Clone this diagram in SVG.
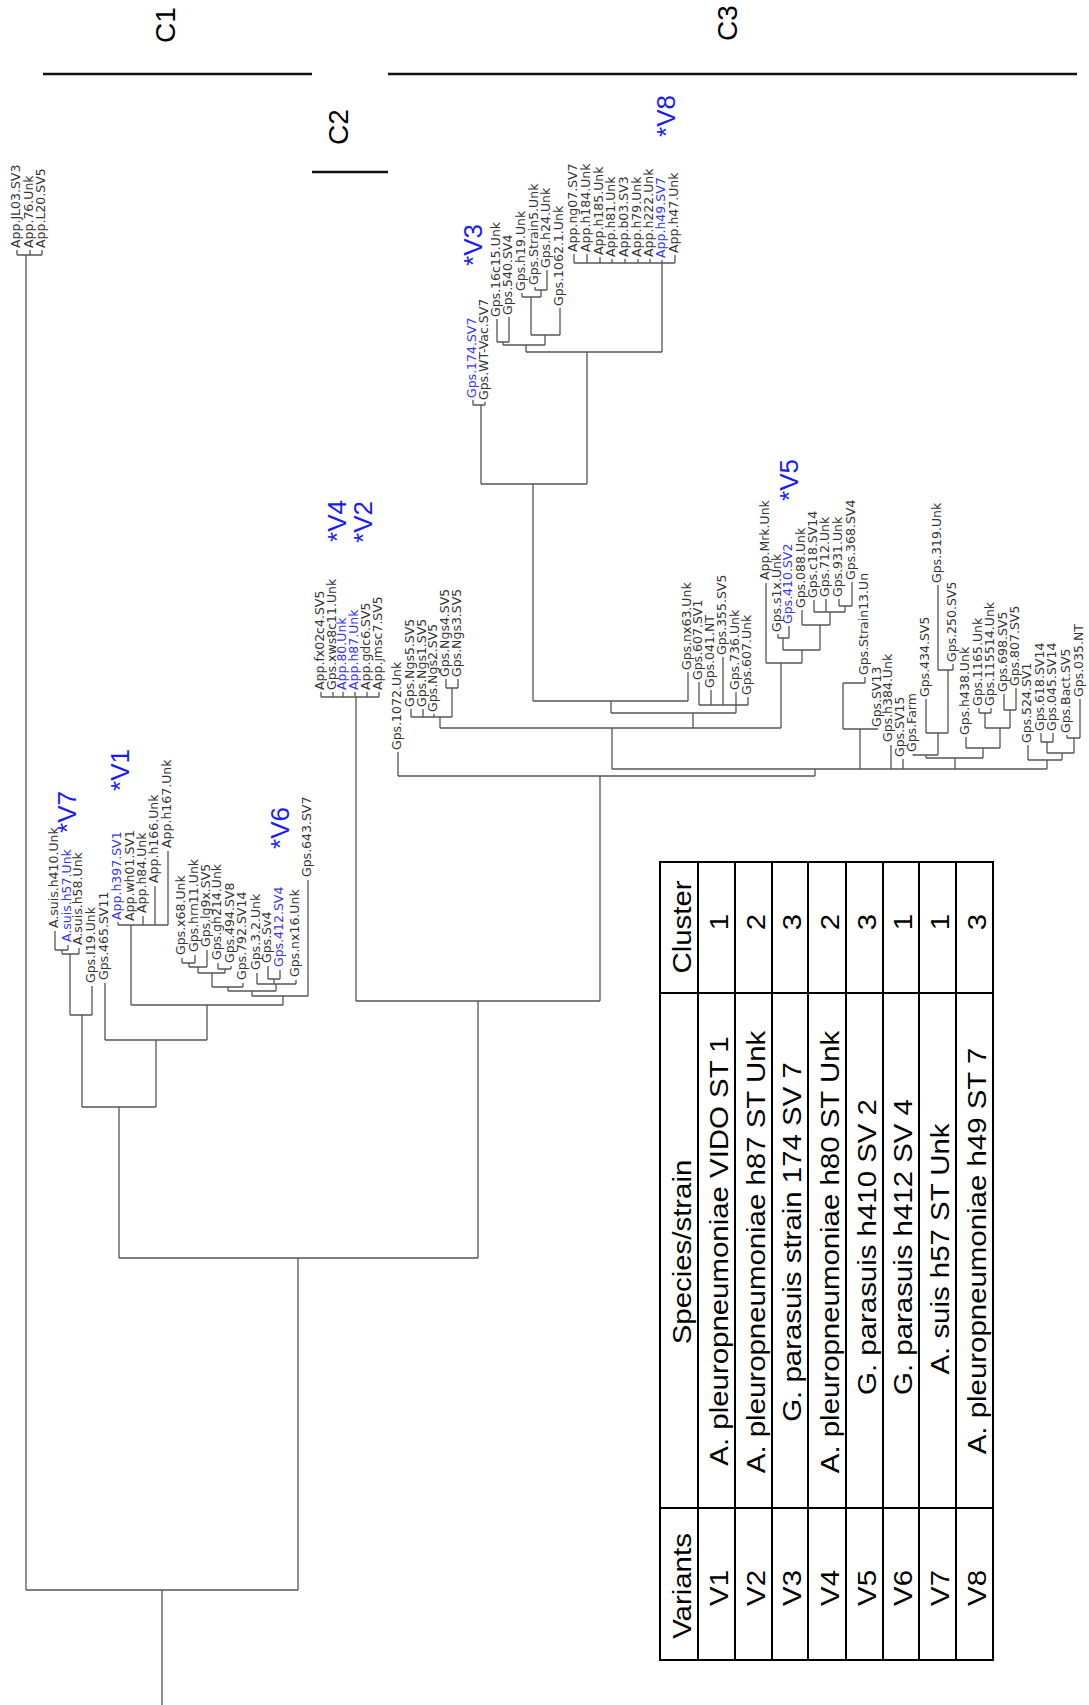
<svg xmlns="http://www.w3.org/2000/svg" width="1089" height="1705" viewBox="0 0 1089 1705">
<style>
.l{font-family:"DejaVu Sans",Verdana,sans-serif;font-size:12.5px;fill:#333}
.b{font-family:"DejaVu Sans",Verdana,sans-serif;font-size:12.5px;fill:#3535ee}
.v{font-family:"Liberation Sans",Arial,sans-serif;font-size:26px;fill:#1a1aff;text-anchor:middle}
.c{font-family:"Liberation Sans",Arial,sans-serif;font-size:28px;fill:#000;text-anchor:middle}
.t{font-family:"Liberation Sans",Arial,sans-serif;font-size:26.5px;fill:#000;text-anchor:middle}
.tr{fill:none;stroke:#555;stroke-width:1.3}
.bar{stroke:#111;stroke-width:2.5}
.tb{fill:none;stroke:#000;stroke-width:2}
</style>
<rect width="1089" height="1705" fill="#fff"/>
<g id="clusters">
<line class="bar" x1="43" y1="74" x2="312" y2="74"/>
<line class="bar" x1="312" y1="172" x2="388" y2="172"/>
<line class="bar" x1="388" y1="74" x2="1077" y2="74"/>
<text class="c" transform="translate(175,25) rotate(-90)">C1</text>
<text class="c" transform="translate(348,127) rotate(-90)">C2</text>
<text class="c" transform="translate(737,23) rotate(-90)">C3</text>
</g>
<g id="connectors">
<path class="tr" d="M17,250V255M30,250V255M42,250V255M17,255H42M26,255V1590"/>
<path class="tr" d="M162,1705V1590M26,1590H298M298,1590V1258M119,1258H478M119,1258V1107M82,1107H156M82,1107V1015M70,1015H92M156,1107V1040M105,1040H207M207,1040V1005M131,1005H283M478,1258V1001M356,1001H600"/>
<path class="tr" d="M55,931V950M68,945V950M55,950H68M62,950V954M79,948V954M62,954H79M70,954V1015M92,986V1015M105,983V1040"/>
<path class="tr" d="M118,922V925M143,916V925M155,886V925M168,851V925M118,925H168M131,925V1005"/>
<path class="tr" d="M182,958V963M195,955V963M182,963H195M189,963V967M207,950V967M189,967H207M198,967V973M218,963V969M231,966V969M218,969H231M225,969V973M198,973H225M212,973V987M243,983V987M212,987H243M228,987V991M268,966V979M280,970V979M268,979H280M274,979V984M257,973V984M296,980V984M257,984H296M276,984V991M228,991H276M252,991V996M308,880V996M252,996H308M283,996V1005"/>
<path class="tr" d="M321,692V697M333,692V697M343,692V697M355,692V697M367,692V697M379,692V697M321,697H379M356,697V1001"/>
<path class="tr" d="M600,1001V776M398,752V776M398,776H815M815,776V769M612,769H1047M612,769V728M440,728H781M440,728V717M446,679V688M458,679V688M446,688H458M452,688V717M411,709V717M423,709V717M434,714V717M411,717H452"/>
<path class="tr" d="M533,701H688M688,672V701M611,701V713M611,713H736M693,713V728M533,701V484M481,484H587M481,484V405M473,400V405M485,402V405M473,405H485M587,484V352M526,352H662"/>
<path class="tr" d="M497,319V342M509,317V342M497,342H509M503,342V345M535,287V290M547,270V290M535,290H547M541,290V297M522,293V297M522,297H541M531,297V335M560,308V335M531,335H560M545,335V345M503,345H545M526,345V352"/>
<path class="tr" d="M574,254V263M587,254V263M600,257V263M612,259V263M625,259V263M638,259V263M650,259V263M662,260V352M675,255V263M574,263H675"/>
<path class="tr" d="M699,682V705M711,690V705M723,657V705M736,692V705M748,697V705M699,705H748M736,705V713"/>
<path class="tr" d="M766,583V663M778,634V638M789,626V638M778,638H789M783,638V650M802,610V625M814,600V612M826,599V612M839,599V606M852,582V606M839,606H852M845,606V612M814,612H845M830,612V625M802,625H830M820,625V650M783,650H820M802,650V663M766,663H802M781,663V728"/>
<path class="tr" d="M865,677V683M843,683H865M843,683V729M843,729H878M860,729V769"/>
<path class="tr" d="M891,745V769M903,759V769M913,754V755M913,755H938M926,755V758M926,758H983M955,758V769M926,699V733M926,733H948M938,733V755M938,585V670M953,664V670M938,670H953M948,670V733M966,737V748M966,748H1000M983,748V758M979,708V713M991,708V713M979,713H991M985,713V728M1004,694V710M1016,688V710M1004,710H1016M1010,710V728M985,728H1010M1000,728V748M1028,745V760M1041,733V742M1053,733V742M1041,742H1053M1047,742V753M1067,735V738M1080,699V738M1067,738H1080M1074,738V753M1047,753H1074M1062,753V760M1028,760H1062M1047,760V769"/>
</g>
<g id="leaves-topleft">
<text class="l" transform="translate(20,248) rotate(-90)">App.JL03.SV3</text>
<text class="l" transform="translate(33,248) rotate(-90)">App.76.Unk</text>
<text class="l" transform="translate(45,248) rotate(-90)">App.L20.SV5</text>
</g>
<g id="leaves-c1">
<text class="l" transform="translate(58,928) rotate(-90)">A.suis.h410.Unk</text>
<text class="b" transform="translate(71,942) rotate(-90)">A.suis.h57.Unk</text>
<text class="l" transform="translate(82,945) rotate(-90)">A.suis.h58.Unk</text>
<text class="l" transform="translate(95,983) rotate(-90)">Gps.I19.Unk</text>
<text class="l" transform="translate(108,980) rotate(-90)">Gps.465.SV11</text>
<text class="b" transform="translate(121,920) rotate(-90)">App.h397.SV1</text>
<text class="l" transform="translate(134,921) rotate(-90)">App.wh01.SV1</text>
<text class="l" transform="translate(146,913) rotate(-90)">App.h84.Unk</text>
<text class="l" transform="translate(158,883) rotate(-90)">App.h166.Unk</text>
<text class="l" transform="translate(171,848) rotate(-90)">App.h167.Unk</text>
<text class="l" transform="translate(185,955) rotate(-90)">Gps.x68.Unk</text>
<text class="l" transform="translate(198,952) rotate(-90)">Gps.hrn11.Unk</text>
<text class="l" transform="translate(210,947) rotate(-90)">Gps.lg9x.SV5</text>
<text class="l" transform="translate(221,960) rotate(-90)">Gps.gh214.Unk</text>
<text class="l" transform="translate(234,963) rotate(-90)">Gps.494.SV8</text>
<text class="l" transform="translate(246,980) rotate(-90)">Gps.792.SV14</text>
<text class="l" transform="translate(260,970) rotate(-90)">Gps.3.2.Unk</text>
<text class="l" transform="translate(271,963) rotate(-90)">Gps.Sv4</text>
<text class="b" transform="translate(283,967) rotate(-90)">Gps.412.SV4</text>
<text class="l" transform="translate(299,977) rotate(-90)">Gps.nx16.Unk</text>
<text class="l" transform="translate(311,877) rotate(-90)">Gps.643.SV7</text>
</g>
<g id="leaves-c2">
<text class="l" transform="translate(324,690) rotate(-90)">App.fx02c4.SV5</text>
<text class="l" transform="translate(336,690) rotate(-90)">Gps.xws8c11.Unk</text>
<text class="b" transform="translate(346,690) rotate(-90)">App.80.Unk</text>
<text class="b" transform="translate(358,690) rotate(-90)">App.h87.Unk</text>
<text class="l" transform="translate(370,690) rotate(-90)">App.gdc6.SV5</text>
<text class="l" transform="translate(382,690) rotate(-90)">App.jmsc7.SV5</text>
</g>
<g id="leaves-c3">
<text class="l" transform="translate(401,750) rotate(-90)">Gps.1072.Unk</text>
<text class="l" transform="translate(414,707) rotate(-90)">Gps.Ngs5.SV5</text>
<text class="l" transform="translate(426,707) rotate(-90)">Gps.Ngs1.SV5</text>
<text class="l" transform="translate(437,712) rotate(-90)">Gps.Ngs2.SV5</text>
<text class="l" transform="translate(449,677) rotate(-90)">Gps.Ngs4.SV5</text>
<text class="l" transform="translate(461,677) rotate(-90)">Gps.Ngs3.SV5</text>
<text class="b" transform="translate(476,398) rotate(-90)">Gps.174.SV7</text>
<text class="l" transform="translate(488,400) rotate(-90)">Gps.WT-Vac.SV7</text>
<text class="l" transform="translate(500,317) rotate(-90)">Gps.16c15.Unk</text>
<text class="l" transform="translate(512,315) rotate(-90)">Gps.540.SV4</text>
<text class="l" transform="translate(525,291) rotate(-90)">Gps.h19.Unk</text>
<text class="l" transform="translate(538,285) rotate(-90)">Gps.Strain5.Unk</text>
<text class="l" transform="translate(550,268) rotate(-90)">Gps.h24.Unk</text>
<text class="l" transform="translate(563,306) rotate(-90)">Gps.1062.1.Unk</text>
<text class="l" transform="translate(577,252) rotate(-90)">App.ng07.SV7</text>
<text class="l" transform="translate(590,252) rotate(-90)">App.h184.Unk</text>
<text class="l" transform="translate(603,255) rotate(-90)">App.h185.Unk</text>
<text class="l" transform="translate(615,257) rotate(-90)">App.h81.Unk</text>
<text class="l" transform="translate(628,257) rotate(-90)">App.b03.SV3</text>
<text class="l" transform="translate(641,257) rotate(-90)">App.h79.Unk</text>
<text class="l" transform="translate(653,257) rotate(-90)">App.h222.Unk</text>
<text class="b" transform="translate(665,258) rotate(-90)">App.h49.SV7</text>
<text class="l" transform="translate(678,253) rotate(-90)">App.h47.Unk</text>
<text class="l" transform="translate(691,670) rotate(-90)">Gps.nx63.Unk</text>
<text class="l" transform="translate(702,680) rotate(-90)">Gps.607.SV1</text>
<text class="l" transform="translate(714,688) rotate(-90)">Gps.041.NT</text>
<text class="l" transform="translate(726,655) rotate(-90)">Gps.355.SV5</text>
<text class="l" transform="translate(739,690) rotate(-90)">Gps.736.Unk</text>
<text class="l" transform="translate(751,695) rotate(-90)">Gps.607.Unk</text>
<text class="l" transform="translate(769,580) rotate(-90)">App.Mrk.Unk</text>
<text class="l" transform="translate(781,632) rotate(-90)">Gps.s1x.Unk</text>
<text class="b" transform="translate(792,624) rotate(-90)">Gps.410.SV2</text>
<text class="l" transform="translate(805,608) rotate(-90)">Gps.088.Unk</text>
<text class="l" transform="translate(817,598) rotate(-90)">Gps.c18.SV14</text>
<text class="l" transform="translate(829,597) rotate(-90)">Gps.712.Unk</text>
<text class="l" transform="translate(842,597) rotate(-90)">Gps.931.Unk</text>
<text class="l" transform="translate(855,580) rotate(-90)">Gps.368.SV4</text>
<text class="l" transform="translate(868,675) rotate(-90)">Gps.Strain13.Un</text>
<text class="l" transform="translate(881,727) rotate(-90)">Gps.SV13</text>
<text class="l" transform="translate(892,742) rotate(-90)">Gps.h384.Unk</text>
<text class="l" transform="translate(904,757) rotate(-90)">Gps.SV15</text>
<text class="l" transform="translate(916,752) rotate(-90)">Gps.Farm</text>
<text class="l" transform="translate(929,697) rotate(-90)">Gps.434.SV5</text>
<text class="l" transform="translate(941,583) rotate(-90)">Gps.319.Unk</text>
<text class="l" transform="translate(956,662) rotate(-90)">Gps.250.SV5</text>
<text class="l" transform="translate(969,735) rotate(-90)">Gps.h438.Unk</text>
<text class="l" transform="translate(982,706) rotate(-90)">Gps.1165.Unk</text>
<text class="l" transform="translate(994,706) rotate(-90)">Gps.115514.Unk</text>
<text class="l" transform="translate(1007,692) rotate(-90)">Gps.698.SV5</text>
<text class="l" transform="translate(1019,686) rotate(-90)">Gps.807.SV5</text>
<text class="l" transform="translate(1031,743) rotate(-90)">Gps.524.SV1</text>
<text class="l" transform="translate(1044,731) rotate(-90)">Gps.618.SV14</text>
<text class="l" transform="translate(1056,731) rotate(-90)">Gps.045.SV14</text>
<text class="l" transform="translate(1070,733) rotate(-90)">Gps.Bact.SV5</text>
<text class="l" transform="translate(1083,697) rotate(-90)">Gps.035.NT</text>
</g>
<g id="variant-marks">
<text class="v" transform="translate(675,116) rotate(-90)">*V8</text>
<text class="v" transform="translate(482,245) rotate(-90)">*V3</text>
<text class="v" transform="translate(346,521) rotate(-90)">*V4</text>
<text class="v" transform="translate(372,522) rotate(-90)">*V2</text>
<text class="v" transform="translate(798,480) rotate(-90)">*V5</text>
<text class="v" transform="translate(76,812) rotate(-90)">*V7</text>
<text class="v" transform="translate(129,770) rotate(-90)">*V1</text>
<text class="v" transform="translate(289,828) rotate(-90)">*V6</text>
</g>
<g id="table">
<rect class="tb" x="660" y="862" width="333" height="798"/>
<path class="tb" d="M698,862V1660M735,862V1660M772,862V1660M808,862V1660M846,862V1660M883,862V1660M919,862V1660M956,862V1660M660,993H993M660,1508H993"/>
<text class="t" transform="translate(691,927) rotate(-90) scale(1.11,1)">Cluster</text>
<text class="t" transform="translate(691,1252) rotate(-90) scale(1.11,1)">Species/strain</text>
<text class="t" transform="translate(691,1586) rotate(-90) scale(1.11,1)">Variants</text>
<text class="t" transform="translate(728,922) rotate(-90) scale(1.11,1)">1</text>
<text class="t" transform="translate(728,1251) rotate(-90) scale(1.11,1)">A. pleuropneumoniae VIDO ST 1</text>
<text class="t" transform="translate(728,1588) rotate(-90) scale(1.11,1)">V1</text>
<text class="t" transform="translate(765,922) rotate(-90) scale(1.11,1)">2</text>
<text class="t" transform="translate(765,1252) rotate(-90) scale(1.11,1)">A. pleuropneumoniae h87 ST Unk</text>
<text class="t" transform="translate(765,1588) rotate(-90) scale(1.11,1)">V2</text>
<text class="t" transform="translate(801,922) rotate(-90) scale(1.11,1)">3</text>
<text class="t" transform="translate(801,1242) rotate(-90) scale(1.11,1)">G. parasuis strain 174 SV 7</text>
<text class="t" transform="translate(801,1588) rotate(-90) scale(1.11,1)">V3</text>
<text class="t" transform="translate(839,922) rotate(-90) scale(1.11,1)">2</text>
<text class="t" transform="translate(839,1252) rotate(-90) scale(1.11,1)">A. pleuropneumoniae h80 ST Unk</text>
<text class="t" transform="translate(839,1588) rotate(-90) scale(1.11,1)">V4</text>
<text class="t" transform="translate(876,922) rotate(-90) scale(1.11,1)">3</text>
<text class="t" transform="translate(876,1247) rotate(-90) scale(1.11,1)">G. parasuis h410 SV 2</text>
<text class="t" transform="translate(876,1588) rotate(-90) scale(1.11,1)">V5</text>
<text class="t" transform="translate(912,922) rotate(-90) scale(1.11,1)">1</text>
<text class="t" transform="translate(912,1247) rotate(-90) scale(1.11,1)">G. parasuis h412 SV 4</text>
<text class="t" transform="translate(912,1588) rotate(-90) scale(1.11,1)">V6</text>
<text class="t" transform="translate(949,922) rotate(-90) scale(1.11,1)">1</text>
<text class="t" transform="translate(949,1249) rotate(-90) scale(1.11,1)">A. suis h57 ST Unk</text>
<text class="t" transform="translate(949,1588) rotate(-90) scale(1.11,1)">V7</text>
<text class="t" transform="translate(986,922) rotate(-90) scale(1.11,1)">3</text>
<text class="t" transform="translate(986,1251) rotate(-90) scale(1.11,1)">A. pleuropneumoniae h49 ST 7</text>
<text class="t" transform="translate(986,1588) rotate(-90) scale(1.11,1)">V8</text>
</g>
</svg>
